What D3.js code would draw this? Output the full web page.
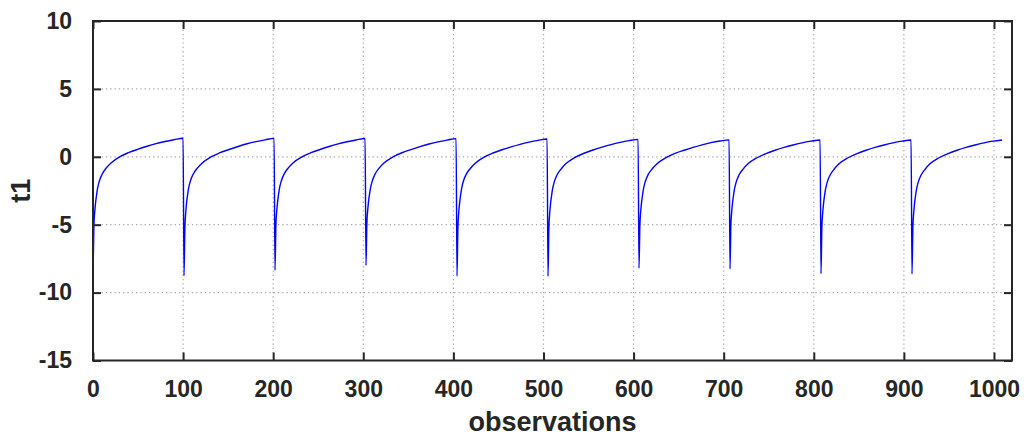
<!DOCTYPE html>
<html>
<head>
<meta charset="utf-8">
<script src="https://cdn.jsdelivr.net/npm/d3@7"></script>
<style>
  html, body { margin: 0; padding: 0; background: #fff; }
  svg { display: block; }
</style>
</head>
<body>
<svg id="chart" width="1025" height="436"></svg>
<script>
// ---- data ----
const xTicks = [0, 100, 200, 300, 400, 500, 600, 700, 800, 900, 1000];
const yTicks = [-15, -10, -5, 0, 5, 10];
const xLabel = "observations";
const yLabel = "t1";
const segmentStarts = [0, 101, 202, 303, 404, 505, 606, 707, 808, 909];
const offsets = [0, 1, 2, 3, 4, 5, 7, 10, 15, 20, 30, 40, 50, 60, 70, 80, 90, 100];
const seg0 = [-8.7, -5.1, -4.0, -3.3, -2.8, -2.35, -1.8, -1.3, -0.8, -0.45, 0.02, 0.32, 0.56, 0.78, 0.97, 1.13, 1.26, 1.37];
const seg1 = [-8.75, -5.2, -4.05, -3.3, -2.8, -2.35, -1.8, -1.3, -0.82, -0.47, 0.0, 0.3, 0.54, 0.76, 0.96, 1.12, 1.25, 1.36];
const seg2 = [-8.35, -5.0, -3.95, -3.25, -2.75, -2.3, -1.78, -1.28, -0.8, -0.45, 0.0, 0.3, 0.54, 0.76, 0.95, 1.11, 1.24, 1.35];
const seg3 = [-8.0, -4.85, -3.85, -3.2, -2.72, -2.3, -1.78, -1.28, -0.8, -0.46, 0.0, 0.3, 0.53, 0.75, 0.94, 1.1, 1.23, 1.34];
const seg4 = [-8.78, -5.2, -4.05, -3.35, -2.82, -2.38, -1.82, -1.32, -0.84, -0.49, -0.03, 0.28, 0.52, 0.73, 0.92, 1.08, 1.21, 1.31];
const seg5 = [-8.8, -5.2, -4.08, -3.36, -2.84, -2.4, -1.84, -1.34, -0.86, -0.5, -0.05, 0.26, 0.5, 0.71, 0.9, 1.06, 1.19, 1.28];
const seg6 = [-8.2, -5.0, -3.95, -3.28, -2.78, -2.35, -1.82, -1.33, -0.86, -0.51, -0.06, 0.25, 0.48, 0.69, 0.88, 1.04, 1.16, 1.25];
const seg7 = [-8.25, -5.0, -3.97, -3.3, -2.8, -2.37, -1.83, -1.34, -0.87, -0.52, -0.07, 0.24, 0.48, 0.69, 0.87, 1.03, 1.15, 1.24];
const seg8 = [-8.6, -5.15, -4.05, -3.35, -2.83, -2.4, -1.85, -1.36, -0.88, -0.52, -0.07, 0.24, 0.48, 0.69, 0.87, 1.03, 1.15, 1.24];
const seg9 = [-8.63, -5.15, -4.05, -3.35, -2.83, -2.4, -1.85, -1.36, -0.88, -0.52, -0.07, 0.24, 0.48, 0.69, 0.87, 1.03, 1.15, 1.24];
const segments = [seg0, seg1, seg2, seg3, seg4, seg5, seg6, seg7, seg8, seg9];
const xDomain = [0, 1020];
const yDomain = [-15, 10];

// ---- build points ----
const points = [];
segments.forEach((seg, i) => {
  seg.forEach((v, j) => points.push({ x: segmentStarts[i] + offsets[j], y: v }));
});

// ---- layout ----
const svg = d3.select("#chart");
const L = 93, R = 1012, T = 21, B = 360.5;
const x = d3.scaleLinear().domain(xDomain).range([L, R]);
const y = d3.scaleLinear().domain(yDomain).range([B, T]);
const axisColor = "#262626";
const font = "'Liberation Sans', Arial, sans-serif";

// grid
const grid = svg.append("g");
grid.selectAll("line.gx").data(xTicks.filter(d => d > xDomain[0] && d < xDomain[1]))
  .enter().append("line")
  .attr("x1", d => x(d)).attr("x2", d => x(d)).attr("y1", T).attr("y2", B)
  .attr("stroke", "#a8a8a8").attr("stroke-width", 1.2).attr("stroke-dasharray", "1.3,3");
grid.selectAll("line.gy").data(yTicks.filter(d => d > yDomain[0] && d < yDomain[1]))
  .enter().append("line")
  .attr("x1", L).attr("x2", R).attr("y1", d => y(d)).attr("y2", d => y(d))
  .attr("stroke", "#a8a8a8").attr("stroke-width", 1.2).attr("stroke-dasharray", "1.3,3");

// data line
const line = d3.line().x(d => x(d.x)).y(d => y(d.y)).curve(d3.curveMonotoneX);
svg.append("path").datum(points)
  .attr("d", line).attr("fill", "none")
  .attr("stroke", "#0000ff").attr("stroke-width", 1.4);

// axes
const tickLen = 8;
const fmt = d => String(d);
const xAxisB = d3.axisBottom(x).tickValues(xTicks).tickSize(-tickLen).tickPadding(tickLen + 12).tickFormat(fmt);
const xAxisT = d3.axisTop(x).tickValues(xTicks).tickSize(-tickLen).tickFormat("");
const yAxisL = d3.axisLeft(y).tickValues(yTicks).tickSize(-tickLen).tickPadding(tickLen + 13).tickFormat(fmt);
const yAxisR = d3.axisRight(y).tickValues(yTicks).tickSize(-tickLen).tickFormat("");

function styleAxis(g) {
  g.selectAll("path.domain").attr("stroke", axisColor).attr("stroke-width", 2);
  g.selectAll(".tick line").attr("stroke", axisColor).attr("stroke-width", 2);
  g.selectAll(".tick text").attr("fill", axisColor)
    .style("font-family", font).style("font-size", "23px").style("font-weight", "bold");
}
svg.append("g").attr("transform", `translate(0,${B})`).call(xAxisB).call(styleAxis);
svg.append("g").attr("transform", `translate(0,${T})`).call(xAxisT).call(styleAxis);
svg.append("g").attr("transform", `translate(${L},0)`).call(yAxisL).call(styleAxis);
svg.append("g").attr("transform", `translate(${R},0)`).call(yAxisR).call(styleAxis);
svg.selectAll("path.domain").attr("d", null);
svg.append("rect").attr("x", L).attr("y", T).attr("width", R - L).attr("height", B - T)
  .attr("fill", "none").attr("stroke", axisColor).attr("stroke-width", 2);

// labels
svg.append("text").attr("x", (L + R) / 2).attr("y", 431)
  .attr("text-anchor", "middle").attr("fill", axisColor)
  .style("font-family", font).style("font-size", "27px").style("font-weight", "bold")
  .text(xLabel);
svg.append("text").attr("transform", `translate(30,${(T + B) / 2}) rotate(-90)`)
  .attr("text-anchor", "middle").attr("fill", axisColor)
  .style("font-family", font).style("font-size", "27px").style("font-weight", "bold")
  .text(yLabel);
</script>
</body>
</html>
